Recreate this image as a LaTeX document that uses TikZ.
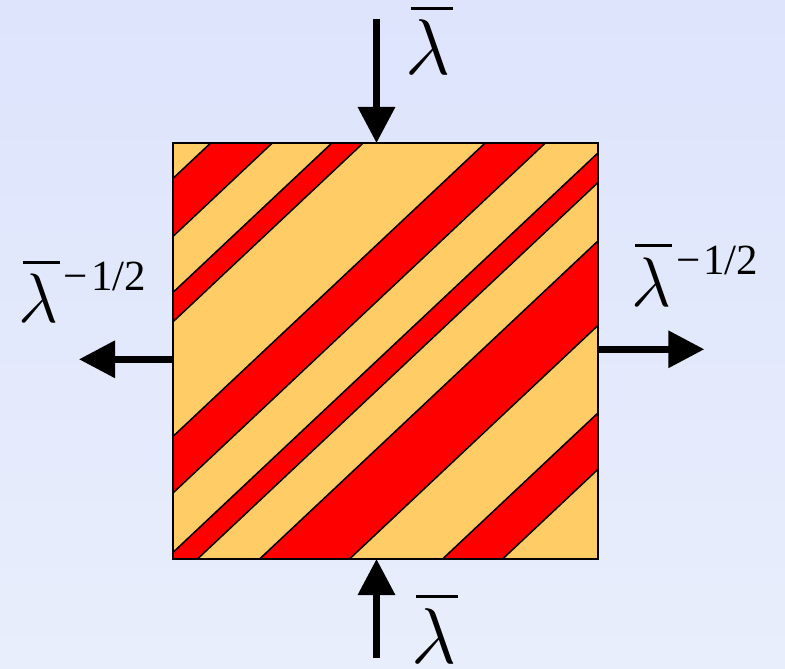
\RequirePackage{fix-cm}
\documentclass[tikz,border=0pt]{standalone}
\usepackage{fontspec}
\setmainfont{Liberation Serif}
\usetikzlibrary{arrows.meta}
\definecolor{bgtop}{RGB}{221,228,252}
\definecolor{bgbot}{RGB}{233,238,252}
\definecolor{stripeY}{RGB}{255,204,102}
\definecolor{stripeR}{RGB}{255,0,0}
\newcommand\lambar[3]{\vbox{\moveright #3\hbox{\vrule width #2 height 3pt depth 0pt}\kern 9pt\hbox{\fontsize{#1}{#1}\selectfont$\lambda$}}}
\newcommand\lamexp{\hbox{\lambar{70}{37pt}{4pt}\kern 4pt\raisebox{32pt}{\fontsize{43}{45}\selectfont −\kern3pt 1/2}}}
\tikzset{
  bigarrow/.style={line width=6.5pt, -{Triangle[length=36pt,width=36pt]}},
  lab/.style={inner sep=0pt, outer sep=0pt, anchor=base west},
  stripeline/.style={line width=1.5pt, line cap=round}
}
\begin{document}
\begin{tikzpicture}[x=1pt,y=-1pt]
\useasboundingbox (0,0) rectangle (785,669);
\shade[top color=bgtop,bottom color=bgbot] (0,0) rectangle (785,669);
\node[inner sep=0pt, outer sep=0pt, minimum width=425pt, minimum height=416pt, anchor=north west] (sq) at (173,143) {};
\begin{scope}
\clip (sq.north west) rectangle (sq.south east);
\fill[stripeY] (sq.north west) rectangle (sq.south east);
\foreach \a/\b in {341/399,455/484.4,599/655.6,715/744.6,803/887.5,975/1031.4}{
  \fill[stripeR] (173,\a-162.6) -- (598,\a-562.1) -- (598,\b-562.1) -- (173,\b-162.6) -- cycle;
}
\foreach \c in {341,399,455,484.4,599,655.6,715,744.6,803,887.5,975,1031.4}{
  \draw[stripeline] (173,\c-162.6) -- (598,\c-562.1);
}
\end{scope}
\draw[line width=2.5pt] (sq.north west) rectangle (sq.south east);
% arrows
\coordinate (topS) at (376.5,19);
\coordinate (topT) at (376.5,143);
\coordinate (botS) at (376.5,658);
\coordinate (botT) at (376.5,559);
\coordinate (lefS) at (173,359.3);
\coordinate (lefT) at (79,359.3);
\coordinate (rigS) at (598,349.3);
\coordinate (rigT) at (704.3,349.3);
\draw[bigarrow] (topS) -- (topT);
\draw[bigarrow] (botS) -- (botT);
\draw[bigarrow] (lefS) -- (lefT);
\draw[bigarrow] (rigS) -- (rigT);
% labels
\node[lab] (ltop) at (405.5,75) {\lambar{79}{42pt}{5pt}};
\node[lab] (lbot) at (411,663) {\lambar{79}{42pt}{5pt}};
\node[lab] (llef) at (19,322.7) {\lamexp};
\node[lab] (lrig) at (631,306) {\lamexp};
\end{tikzpicture}
\end{document}
